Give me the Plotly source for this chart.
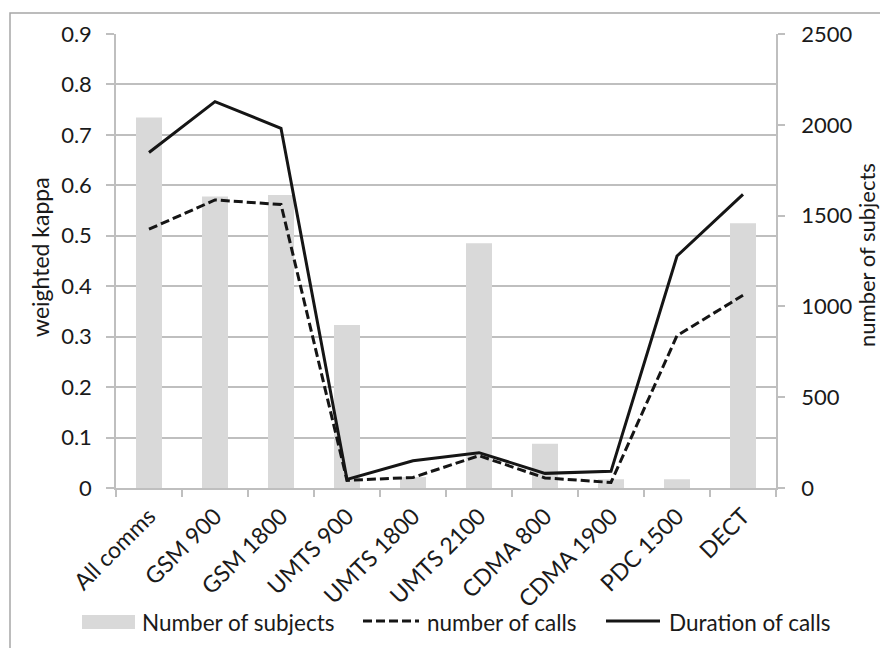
import plotly.graph_objects as go

# Categories and values
categories = ["All comms", "GSM 900", "GSM 1800", "UMTS 900", "UMTS 1800",
              "UMTS 2100", "CDMA 800", "CDMA 1900", "PDC 1500", "DECT"]
subjects = [2040, 1605, 1613, 898, 60, 1348, 243, 48, 48, 1458]
kappa_calls = [0.513, 0.571, 0.562, 0.015, 0.021, 0.064, 0.020, 0.011, 0.302, 0.382]
kappa_duration = [0.665, 0.766, 0.713, 0.017, 0.054, 0.070, 0.029, 0.033, 0.460, 0.582]

left_ticks = [0, 0.1, 0.2, 0.3, 0.4, 0.5, 0.6, 0.7, 0.8, 0.9]
left_ticktext = ["0", "0.1", "0.2", "0.3", "0.4", "0.5", "0.6", "0.7", "0.8", "0.9"]
right_ticks = [0, 500, 1000, 1500, 2000, 2500]

FONT = "Lato"
TXT = "#1a1a1a"
GRID = "#bfbfbf"
BAR = "#d9d9d9"
LINE = "#151515"
FS = 22

W_PX, H_PX = 880, 648
L, R, T, B = 116, 776, 34, 488


def px(x):
    return (x - L) / (R - L)


def py(y):
    return (B - y) / (B - T)


fig = go.Figure()

fig.add_trace(go.Bar(
    x=categories, y=subjects, yaxis="y", marker=dict(color=BAR, line_width=0),
    name="Number of subjects", showlegend=False,
))
fig.add_trace(go.Scatter(
    x=categories, y=kappa_calls, yaxis="y2", mode="lines",
    line=dict(color=LINE, width=3, dash="9px,4px"),
    name="number of calls", showlegend=False,
))
fig.add_trace(go.Scatter(
    x=categories, y=kappa_duration, yaxis="y2", mode="lines",
    line=dict(color=LINE, width=3),
    name="Duration of calls", showlegend=False,
))

shapes = [
    # outer chart frame
    dict(type="rect", xref="paper", yref="paper",
         x0=px(10), x1=px(890), y0=py(660), y1=py(13),
         line=dict(color="#a6a6a6", width=1.5), fillcolor="rgba(0,0,0,0)", layer="below"),
    # legend swatches
    dict(type="rect", xref="paper", yref="paper",
         x0=px(82), x1=px(135), y0=py(629), y1=py(615),
         line=dict(width=0), fillcolor=BAR),
    dict(type="line", xref="paper", yref="paper",
         x0=px(363), x1=px(419), y0=py(621), y1=py(621),
         line=dict(color=LINE, width=3, dash="9px,4px")),
    dict(type="line", xref="paper", yref="paper",
         x0=px(606), x1=px(660), y0=py(621), y1=py(621),
         line=dict(color=LINE, width=3)),
]

legend_labels = [("Number of subjects", 140), ("number of calls", 425), ("Duration of calls", 667)]
annotations = [
    dict(text=t, xref="paper", yref="paper", x=px(x0), y=py(622),
         xanchor="left", yanchor="middle", showarrow=False,
         font=dict(family=FONT, size=22.5, color=TXT))
    for t, x0 in legend_labels
]
annotations += [
    dict(text="weighted kappa", xref="paper", yref="paper", x=px(40), y=py(257),
         xanchor="center", yanchor="middle", textangle=-90, showarrow=False,
         font=dict(family=FONT, size=23, color=TXT)),
    dict(text="number of subjects", xref="paper", yref="paper", x=px(866), y=py(255),
         xanchor="center", yanchor="middle", textangle=-90, showarrow=False,
         font=dict(family=FONT, size=22, color=TXT)),
]

fig.update_layout(
    width=W_PX, height=H_PX,
    margin=dict(l=L, r=W_PX - R, t=T, b=H_PX - B, pad=0),
    paper_bgcolor="white", plot_bgcolor="white",
    bargap=0.606,
    showlegend=False,
    font=dict(family=FONT, size=FS, color=TXT),
    xaxis=dict(
        type="category", range=[-0.5, 9.5], tickangle=-45,
        showline=True, linecolor=GRID, linewidth=1.5,
        ticks="outside", tickson="boundaries", ticklen=7, tickcolor=GRID, tickwidth=1.5,
        ticklabelstandoff=4,
        showgrid=False, tickfont=dict(family=FONT, size=23, color=TXT),
    ),
    yaxis=dict(
        side="right", range=[0, 2500], tickvals=right_ticks,
        showgrid=False, zeroline=False,
        showline=True, linecolor=GRID, linewidth=1.5,
        ticks="outside", ticklen=7, tickcolor=GRID, tickwidth=1.5,
        ticklabelstandoff=12,
        tickfont=dict(family=FONT, size=FS, color=TXT),
    ),
    yaxis2=dict(
        side="left", overlaying="y", range=[0, 0.9],
        tickvals=left_ticks, ticktext=left_ticktext,
        showgrid=True, gridcolor=GRID, gridwidth=1.5, zeroline=False,
        showline=True, linecolor=GRID, linewidth=1.5,
        ticks="outside", ticklen=8, tickcolor=GRID, tickwidth=1.5,
        ticklabelstandoff=10,
        tickfont=dict(family=FONT, size=FS, color=TXT),
    ),
    shapes=shapes,
    annotations=annotations,
)

fig.write_html("out.html")
